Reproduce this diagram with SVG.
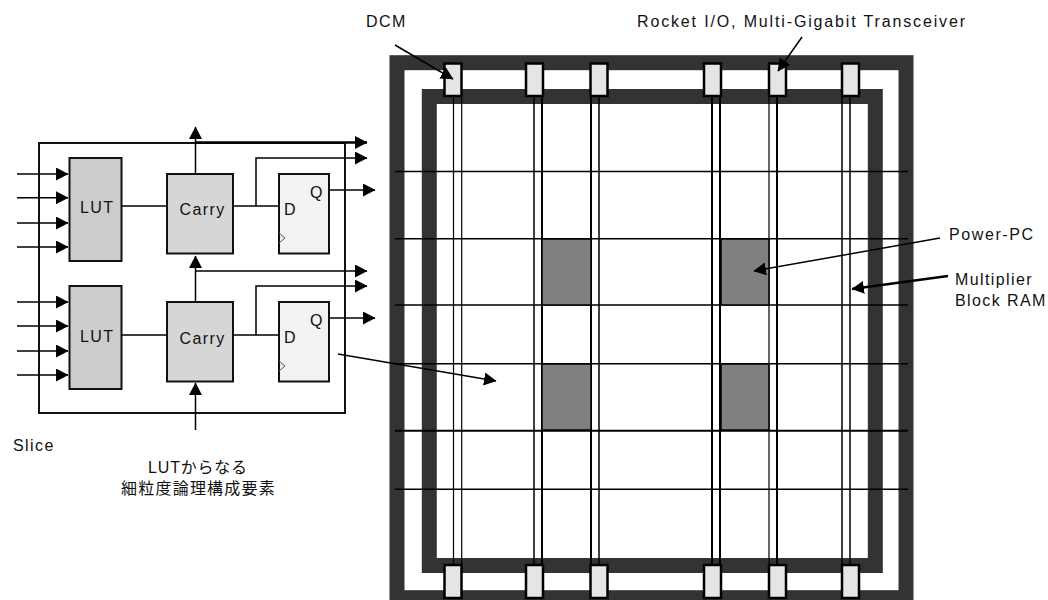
<svg xmlns="http://www.w3.org/2000/svg" width="1048" height="600" viewBox="0 0 1048 600">
<style>
text{font-family:"Liberation Sans","Noto Sans CJK JP",sans-serif;font-size:16px;fill:#111;letter-spacing:1.400px}
.ln{fill:none;stroke:#000;stroke-width:1.5}
.th{fill:none;stroke:#000;stroke-width:1.200}
.tk{fill:none;stroke:#000;stroke-width:2}
.frame{fill:none;stroke:#333;stroke-width:15}
.chip{fill:#e5e5e5;stroke:#000;stroke-width:2.500}
.pp{fill:#808080;stroke:#000;stroke-width:1.500}
.lut{fill:#ccc;stroke:#111;stroke-width:2}
.carry{fill:#d6d6d6;stroke:#111;stroke-width:2}
.ff{fill:#f2f2f2;stroke:#111;stroke-width:2}
.a{marker-end:url(#ah)}
</style>
<defs>
<marker id="ah" markerUnits="userSpaceOnUse" markerWidth="14" markerHeight="14" refX="12" refY="6.500" orient="auto"><path d="M0 0L12.500 6.500L0 13Z" fill="#000"/></marker>
</defs>
<rect width="1048" height="600" fill="#fff"/>
<g id="fabric">
<rect class="frame" x="397" y="62.700" width="509" height="535"/>
<rect class="frame" x="429.300" y="96.500" width="446" height="469"/>
</g>
<g id="routing">
<path class="ln" d="M395 171.500H908M395 238.800H908M395 305H908M395 363.800H908M395 489.300H908"/>
<path class="tk" d="M395 430.700H908"/>
<path class="th" d="M453.500 96V565M461.700 96V565M769 96V565"/>
<path class="ln" d="M534 96V565M599 96V565M842 96V565M850 96V565"/>
<path class="tk" d="M542 96V565M591 96V565M712 96V565M720 96V565M777 96V565"/>
</g>
<g id="power-pc">
<rect class="pp" x="542" y="239" width="49" height="66"/>
<rect class="pp" x="721" y="239" width="48" height="66"/>
<rect class="pp" x="542" y="364" width="49" height="66"/>
<rect class="pp" x="721" y="364" width="48" height="66"/>
</g>
<g id="chips">
<rect class="chip" x="444.500" y="63.500" width="17" height="32.500"/>
<rect class="chip" x="526" y="63.500" width="17" height="32.500"/>
<rect class="chip" x="590.500" y="63.500" width="17" height="32.500"/>
<rect class="chip" x="704" y="63.500" width="17" height="32.500"/>
<rect class="chip" x="769" y="63.500" width="17" height="32.500"/>
<rect class="chip" x="842" y="63.500" width="17" height="32.500"/>
<rect class="chip" x="444.500" y="565" width="17" height="33"/>
<rect class="chip" x="526" y="565" width="17" height="33"/>
<rect class="chip" x="590.500" y="565" width="17" height="33"/>
<rect class="chip" x="704" y="565" width="17" height="33"/>
<rect class="chip" x="769" y="565" width="17" height="33"/>
<rect class="chip" x="842" y="565" width="17" height="33"/>
</g>
<g id="slice">
<rect x="39" y="143" width="306" height="270" fill="none" stroke="#111" stroke-width="2"/>
</g>
<g id="lut-1"><rect class="lut" x="69.500" y="158" width="52" height="103"/><text x="80" y="213">LUT</text></g>
<g id="lut-2"><rect class="lut" x="69.500" y="286" width="52" height="103"/><text x="80" y="341.500">LUT</text></g>
<g id="carry-1"><rect class="carry" x="167" y="174" width="66" height="79.500"/><text x="179.500" y="215">Carry</text></g>
<g id="carry-2"><rect class="carry" x="167" y="302" width="66" height="79.500"/><text x="179.500" y="343.500">Carry</text></g>
<g id="ff-1"><rect class="ff" x="279" y="174" width="50" height="79.500"/><text x="284" y="215">D</text><text x="310" y="198">Q</text><path d="M279 233L285 238L279 243" fill="none" stroke="#555"/></g>
<g id="ff-2"><rect class="ff" x="279" y="302" width="50" height="79.500"/><text x="284" y="343">D</text><text x="310" y="326">Q</text><path d="M279 361L285 366L279 371" fill="none" stroke="#555"/></g>
<g id="connectors">
<path class="ln a" d="M17 174H68"/>
<path class="ln a" d="M17 197.700H68"/>
<path class="ln a" d="M17 223H68"/>
<path class="ln a" d="M17 247H68"/>
<path class="ln a" d="M17 302H68"/>
<path class="ln a" d="M17 326H68"/>
<path class="ln a" d="M17 351H68"/>
<path class="ln a" d="M17 375H68"/>
<path class="ln" d="M121 206H167M121 335H167M233 206H279M233 335H279"/>
<path class="ln a" d="M195.500 174V127"/>
<path class="ln a" d="M195.500 302V256"/>
<path class="ln a" d="M195.500 430V383"/>
<path class="ln a" d="M195.500 142.500H367" style="stroke-width:2.500"/>
<path class="ln a" d="M195.500 271H367"/>
<path class="ln a" d="M256 206V158H367"/>
<path class="ln a" d="M256 335V286H367"/>
<path class="ln a" d="M329 190H375"/>
<path class="ln a" d="M329 318H375"/>
<path class="ln a" d="M338 354L496 381"/>
<path class="ln a" d="M395 45L453 79"/>
<path class="ln a" d="M802 37L778 71"/>
<path class="ln a" d="M940 238L754 271"/>
<path class="ln a" d="M948 276L852 289" style="stroke-width:2.500"/>
</g>
<g id="labels">
<text x="366" y="27">DCM</text>
<text x="637" y="27" style="letter-spacing:1.850px">Rocket I/O, Multi-Gigabit Transceiver</text>
<text x="949" y="240" style="letter-spacing:1.600px">Power-PC</text>
<text x="955" y="285">Multiplier</text>
<text x="955" y="306">Block RAM</text>
<text x="13" y="450.500">Slice</text>
<text x="198" y="473" text-anchor="middle" style="letter-spacing:.8px">LUTからなる</text>
<text x="198.500" y="494" text-anchor="middle" style="letter-spacing:1.200px">細粒度論理構成要素</text>
</g>
</svg>
